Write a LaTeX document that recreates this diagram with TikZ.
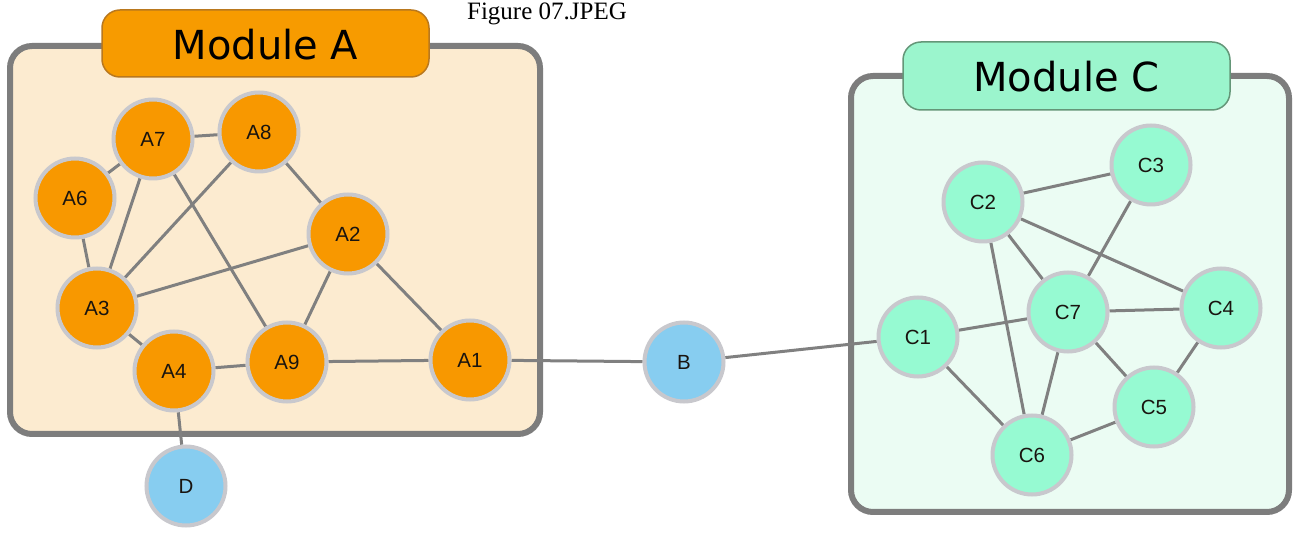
\documentclass[tikz,border=0pt]{standalone}
\usepackage{fontspec}
\newfontfamily\titlefont{DejaVu Sans}
\newfontfamily\labelfont{Liberation Sans}
\newfontfamily\capfont{Liberation Serif}

\definecolor{modAfill}{RGB}{252,235,208}
\definecolor{tabAfill}{RGB}{247,155,0}
\definecolor{tabAline}{RGB}{185,120,30}
\definecolor{nodeA}{RGB}{248,152,0}
\definecolor{modCfill}{RGB}{235,252,243}
\definecolor{tabCfill}{RGB}{155,245,205}
\definecolor{tabCline}{RGB}{100,150,120}
\definecolor{nodeC}{RGB}{150,250,210}
\definecolor{nodeB}{RGB}{135,205,240}
\definecolor{ring}{RGB}{200,200,205}
\definecolor{wire}{RGB}{128,128,128}
\definecolor{frame}{RGB}{125,125,125}
\definecolor{ink}{RGB}{25,20,15}

\pgfdeclarelayer{boxes}
\pgfdeclarelayer{wires}
\pgfsetlayers{boxes,wires,main}

\tikzset{
  vertex/.style={circle, draw=ring, line width=4pt, minimum size=79pt,
    inner sep=0pt, text=ink, font=\labelfont\fontsize{20.5}{24}\selectfont},
  anode/.style={vertex, fill=nodeA},
  cnode/.style={vertex, fill=nodeC},
  bnode/.style={vertex, fill=nodeB},
  modbox/.style={draw=frame, line width=6pt, rounded corners=22pt},
  tab/.style={line width=1.5pt, rounded corners=18pt},
  tabtitle/.style={font=\titlefont\fontsize{40}{48}\selectfont, text=black, inner sep=0pt},
  link/.style={draw=wire, line width=3pt}
}

\begin{document}
\begin{tikzpicture}[x=1pt, y=-1pt]
\useasboundingbox (0,0) rectangle (1302,534);

% caption
\node[font=\capfont\fontsize{25}{30}\selectfont, anchor=base, inner sep=0pt] (cap) at (547,19.5) {Figure 07.JPEG};

% module frames and title tabs
\begin{pgfonlayer}{boxes}
  \fill[white] (0,0) rectangle (1302,534);
  \draw[modbox, fill=modAfill] (10,46) rectangle (540,434);
  \draw[tab, draw=tabAline, fill=tabAfill] (102,10) rectangle (429,77);
  \draw[modbox, fill=modCfill] (851,76) rectangle (1289,512);
  \draw[tab, draw=tabCline, fill=tabCfill] (903,42) rectangle (1230,110);
\end{pgfonlayer}
\node[tabtitle] (titleA) at (265.5,45) {Module A};
\node[tabtitle] (titleC) at (1066.5,77) {Module C};

% module A nodes
\node[anode] (A1) at (470,360) {A1};
\node[anode] (A2) at (348,234) {A2};
\node[anode] (A3) at (97,308) {A3};
\node[anode] (A4) at (174,371) {A4};
\node[anode] (A6) at (75,198) {A6};
\node[anode] (A7) at (153,139) {A7};
\node[anode] (A8) at (259,132) {A8};
\node[anode] (A9) at (287,362) {A9};

% outside nodes
\node[bnode] (D) at (186,486) {D};
\node[bnode] (B) at (684,362) {B};

% module C nodes
\node[cnode] (C1) at (918,337) {C1};
\node[cnode] (C2) at (983,202) {C2};
\node[cnode] (C3) at (1151,165) {C3};
\node[cnode] (C4) at (1221,308) {C4};
\node[cnode] (C5) at (1154,407) {C5};
\node[cnode] (C6) at (1032,455) {C6};
\node[cnode] (C7) at (1068,312) {C7};

% connectors
\begin{pgfonlayer}{wires}
  \draw[link] (A7) -- (A8);
  \draw[link] (A7) -- (A6);
  \draw[link] (A7) -- (A3);
  \draw[link] (A7) -- (A9);
  \draw[link] (A8) -- (A3);
  \draw[link] (A8) -- (A2);
  \draw[link] (A6) -- (A3);
  \draw[link] (A2) -- (A3);
  \draw[link] (A2) -- (A9);
  \draw[link] (A2) -- (A1);
  \draw[link] (A3) -- (A4);
  \draw[link] (A4) -- (A9);
  \draw[link] (A9) -- (A1);
  \draw[link] (A4) -- (D);
  \draw[link] (A1) -- (B);
  \draw[link] (B) -- (C1);
  \draw[link] (C2) -- (C3);
  \draw[link] (C2) -- (C7);
  \draw[link] (C2) -- (C4);
  \draw[link] (C2) -- (C6);
  \draw[link] (C3) -- (C7);
  \draw[link] (C7) -- (C4);
  \draw[link] (C7) -- (C1);
  \draw[link] (C7) -- (C5);
  \draw[link] (C7) -- (C6);
  \draw[link] (C4) -- (C5);
  \draw[link] (C1) -- (C6);
  \draw[link] (C5) -- (C6);
\end{pgfonlayer}
\end{tikzpicture}
\end{document}
